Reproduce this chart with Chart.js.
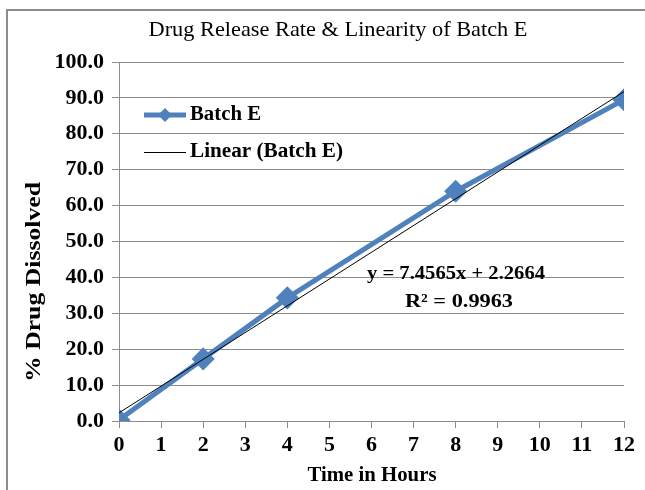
<!DOCTYPE html>
<html><head><meta charset="utf-8">
<script src="https://cdn.jsdelivr.net/npm/chart.js@4.4.1/dist/chart.umd.min.js"></script>
<style>
html,body{margin:0;padding:0;background:#fff;}
#wrap{position:relative;width:645px;height:490px;overflow:hidden;}
#frame{position:absolute;left:6px;top:9px;width:660px;height:510px;border:2px solid #8c8c8c;box-sizing:border-box;}
canvas{position:absolute;left:0;top:0;}
</style></head>
<body><div id="wrap"><div id="frame"></div><canvas id="c" width="645" height="490"></canvas></div>
<script>
const hours = [0, 2, 4, 8, 12];
const batchE = [0.3, 17.3, 34.3, 64.0, 89.5];
const trendSlope = 7.4565;
const trendIntercept = 2.2664;
const trendX = [0, 12];
const yTicks = [0,10,20,30,40,50,60,70,80,90,100];
const titleText = 'Drug Release Rate & Linearity of Batch E';
const xTitle = 'Time in Hours';
const yTitle = '% Drug Dissolved';
const seriesName = 'Batch E';
const trendName = 'Linear (Batch E)';
const eqText = 'y = 7.4565x + 2.2664';
const r2Text = 'R\u00b2 = 0.9963';

const blue = '#4F81BD';
const serif = '"Liberation Serif","Times New Roman",serif';

function fitText(ctx, text, x, y, targetW){
  const w = ctx.measureText(text).width;
  const sx = targetW / w;
  ctx.save();
  ctx.translate(x, y);
  ctx.scale(sx, 1);
  ctx.fillText(text, 0, 0);
  ctx.restore();
}

const decor = {
  id:'decor',
  afterDraw(chart){
    const ctx = chart.ctx;
    ctx.save();
    ctx.fillStyle = '#000';
    ctx.textBaseline = 'middle';
    ctx.textAlign = 'center';
    ctx.font = '21px ' + serif;
    fitText(ctx, titleText, 338, 30, 379);
    ctx.font = 'bold 21px ' + serif;
    fitText(ctx, xTitle, 372, 476, 129);
    ctx.save();
    ctx.translate(34, 282);
    ctx.rotate(-Math.PI/2);
    ctx.font = 'bold 22px ' + serif;
    fitText(ctx, yTitle, 0, 0, 200);
    ctx.restore();
    // legend
    ctx.lineWidth = 5; ctx.strokeStyle = blue;
    ctx.beginPath(); ctx.moveTo(144,115); ctx.lineTo(186,115); ctx.stroke();
    ctx.fillStyle = blue;
    ctx.beginPath(); ctx.moveTo(165,108); ctx.lineTo(172,115); ctx.lineTo(165,122); ctx.lineTo(158,115); ctx.closePath(); ctx.fill();
    ctx.lineWidth = 1; ctx.strokeStyle = '#000';
    ctx.beginPath(); ctx.moveTo(144,152.5); ctx.lineTo(186,152.5); ctx.stroke();
    ctx.fillStyle = '#000';
    ctx.textAlign = 'left';
    ctx.font = 'bold 20px ' + serif;
    fitText(ctx, seriesName, 190, 115, 71);
    fitText(ctx, trendName, 190, 152, 153);
    ctx.textAlign = 'center';
    ctx.font = 'bold 19px ' + serif;
    fitText(ctx, eqText, 456, 274, 178);
    fitText(ctx, r2Text, 459, 302, 108);
    ctx.restore();
  }
};

new Chart(document.getElementById('c'), {
  type:'scatter',
  data:{
    datasets:[
      {label:trendName, data:trendX.map(x=>({x, y: trendSlope*x + trendIntercept})), showLine:true,
       borderColor:'#000', borderWidth:1, pointRadius:0, order:1},
      {label:seriesName, data:hours.map((h,i)=>({x:h, y:batchE[i]})), showLine:true,
       borderColor:blue, backgroundColor:blue, borderWidth:5, pointStyle:'rectRot', pointRadius:8, pointHoverRadius:8, order:2}
    ]
  },
  options:{
    responsive:false, animation:false,
    layout:{padding:{left:0, right:21, top:62, bottom:0}},
    plugins:{legend:{display:false}, title:{display:false}, tooltip:{enabled:false}},
    scales:{
      x:{type:'linear', min:0, max:12,
        afterFit(s){ s.height = 69; },
        grid:{drawOnChartArea:false, color:'#8c8c8c', tickLength:7, tickColor:'#8c8c8c'},
        border:{color:'#8c8c8c'},
        ticks:{stepSize:1, color:'#000', padding:4, font:{family:serif, size:22, weight:'bold'}, maxRotation:0, autoSkip:false}
      },
      y:{type:'linear', min:0, max:100,
        afterFit(s){ s.width = 119; },
        afterBuildTicks(s){ s.ticks = yTicks.map(v=>({value:v})); },
        grid:{color:'#8c8c8c', tickLength:7, tickColor:'#8c8c8c'},
        border:{color:'#8c8c8c'},
        ticks:{color:'#000', padding:8, font:{family:serif, size:22, weight:'bold'}, callback:v=>Number(v).toFixed(1)}
      }
    }
  },
  plugins:[decor]
});
</script></body></html>
